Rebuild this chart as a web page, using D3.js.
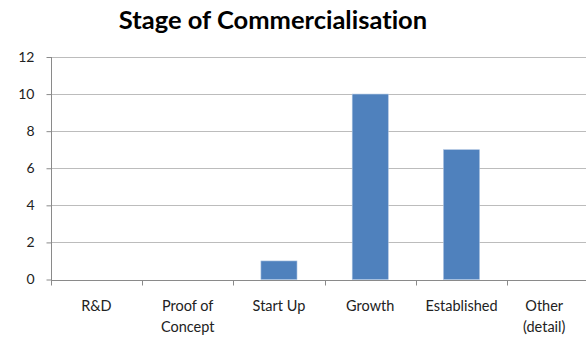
<!DOCTYPE html>
<html>
<head>
<meta charset="utf-8">
<script src="https://cdn.jsdelivr.net/npm/d3@7"></script>
<style>
  body { margin: 0; background: #fff; }
  svg { display: block; font-family: Lato, "Open Sans", sans-serif; font-variant-ligatures: none; }
</style>
</head>
<body>
<script>
(function(){

    //chart data
    var categories = ["R&D", "Proof of Concept", "Start Up", "Growth", "Established", "Other (detail)"];
    var counts = [0, 0, 1, 10, 7, 0];
    var yTicks = [0, 2, 4, 6, 8, 10, 12];
    var chartTitle = "Stage of Commercialisation";

    var width = 586,
        height = 337;

    var svg = d3.select("body")
        .append("svg")
        .attr("width", width)
        .attr("height", height);

    //plot area (right side runs past the window, as in the original crop)
    var left = 51, top = 57, bottom = 279.5, bandStep = 91.2;

    var x = d3.scaleBand()
        .domain(categories)
        .range([left, left + bandStep * categories.length])
        .paddingInner(0.605)
        .paddingOuter(0.3);

    var y = d3.scaleLinear()
        .domain([0, 12])
        .range([bottom, top]);

    //gridlines
    svg.selectAll(".grid")
        .data(yTicks.filter(function(d){ return d > 0; }))
        .enter()
        .append("line")
        .attr("class", "grid")
        .attr("x1", left)
        .attr("x2", width)
        .attr("y1", function(d){ return Math.round(y(d)) + 0.5; })
        .attr("y2", function(d){ return Math.round(y(d)) + 0.5; })
        .attr("stroke", "#bcbcbc")
        .attr("stroke-width", 1);

    //bars
    svg.selectAll(".bar")
        .data(counts)
        .enter()
        .append("rect")
        .attr("class", "bar")
        .attr("x", function(d, i){ return x(categories[i]); })
        .attr("width", x.bandwidth())
        .attr("y", function(d){ return y(d); })
        .attr("height", function(d){ return y(0) - y(d); })
        .attr("fill", "#4f81bd")
        .attr("stroke", "#a8c0e0")
        .attr("stroke-width", 0.6);

    //y axis
    var yAxis = d3.axisLeft(y)
        .tickValues(yTicks)
        .tickSize(5)
        .tickPadding(12);

    var yg = svg.append("g")
        .attr("transform", "translate(" + (left + 0.5) + ",0)")
        .call(yAxis);
    yg.select(".domain").remove();
    yg.append("line")
        .attr("y1", top)
        .attr("y2", bottom + 5)
        .attr("stroke", "#8a8a8a");
    yg.selectAll(".tick line").attr("stroke", "#8a8a8a");
    yg.selectAll(".tick text")
        .attr("fill", "#222")
        .style("font-family", "Lato, sans-serif")
        .style("font-size", "14px");

    //x axis: ticks on band boundaries
    var xg = svg.append("g")
        .attr("transform", "translate(0," + (Math.round(bottom) + 0.5) + ")");
    xg.append("line")
        .attr("x1", left)
        .attr("x2", width)
        .attr("stroke", "#8a8a8a");
    xg.selectAll(".xtick")
        .data(d3.range(categories.length + 1))
        .enter()
        .append("line")
        .attr("class", "xtick")
        .attr("x1", function(i){ return Math.round(left + i * bandStep) + 0.5; })
        .attr("x2", function(i){ return Math.round(left + i * bandStep) + 0.5; })
        .attr("y1", 0)
        .attr("y2", 5)
        .attr("stroke", "#8a8a8a");

    //category labels, wrapped like the original
    var labels = svg.selectAll(".xlabel")
        .data(categories)
        .enter()
        .append("text")
        .attr("class", "xlabel")
        .attr("text-anchor", "middle")
        .attr("fill", "#222")
        .style("font-size", "14.5px")
        .attr("x", function(d){ return x(d) + x.bandwidth() / 2; })
        .attr("y", 311);

    labels.each(function(d){
        var text = d3.select(this);
        var words = d.split(" "),
            lines = [],
            line = [];
        var tspan = text.append("tspan");
        var fullWidth = 0;
        words.forEach(function(w){
            line.push(w);
            tspan.text(d);
            fullWidth = tspan.node().getComputedTextLength();
            tspan.text(line.join(" "));
            if (tspan.node().getComputedTextLength() > 78 && line.length > 1) {
                line.pop();
                lines.push(line.join(" "));
                line = [w];
            }
        });
        lines.push(line.join(" "));
        tspan.remove();
        var cx = +text.attr("x");
        var tspans = lines.map(function(l, i){
            return text.append("tspan")
                .attr("x", cx)
                .attr("dy", i === 0 ? 0 : 21)
                .text(l);
        });
        //Excel keeps the unwrapped label width inside the picture
        if (cx + fullWidth / 2 > width) {
            var nx = width - fullWidth / 2;
            tspans.forEach(function(t){ t.attr("x", nx); });
        }
    });

    //title
    svg.append("text")
        .attr("x", 273)
        .attr("y", 29)
        .attr("text-anchor", "middle")
        .attr("fill", "#000")
        .style("font-size", "25.5px")
        .style("font-weight", "bold")
        .text(chartTitle);

})();
</script>
</body>
</html>
